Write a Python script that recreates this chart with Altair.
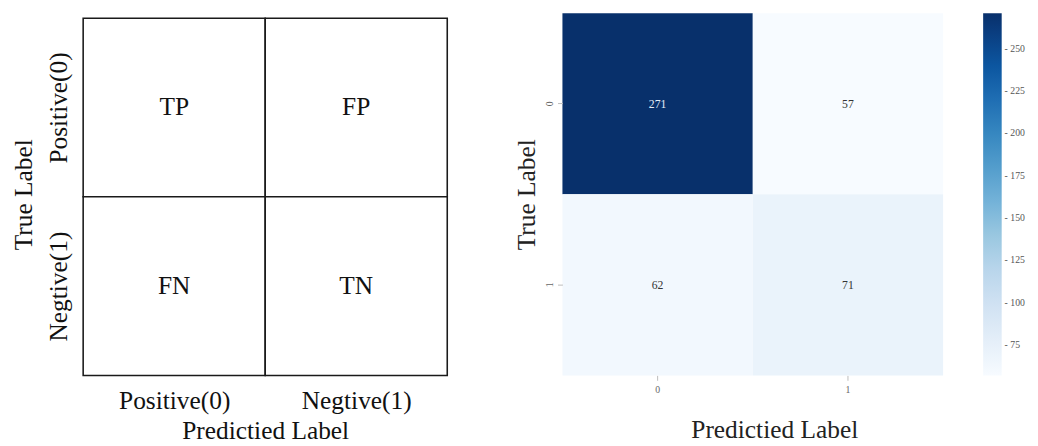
import altair as alt
import pandas as pd

# ---- data ----
axis_names = ["Positive(0)", "Negtive(1)"]
pred_idx = [0, 1, 0, 1]
true_idx = [0, 0, 1, 1]
cell_text = ["TP", "FP", "FN", "TN"]

cm_true = ["0", "0", "1", "1"]
cm_pred = ["0", "1", "0", "1"]
cm_count = [271, 57, 62, 71]
cbar_ticks = [75, 100, 125, 150, 175, 200, 225, 250]

blues = ["#f7fbff", "#deebf7", "#c6dbef", "#9ecae1", "#6baed6",
         "#4292c6", "#2171b5", "#08519c", "#08306b"]

FONT = "Liberation Serif"

left_df = pd.DataFrame({"p": pred_idx, "t": true_idx, "txt": cell_text})
right_df = pd.DataFrame({"true": cm_true, "pred": cm_pred, "count": cm_count})

lab_expr = "datum.value < 1 ? '%s' : '%s'" % (axis_names[0], axis_names[1])

xs = alt.Scale(domain=[0, 2], nice=False, zero=False)
ys = alt.Scale(domain=[-0.0274, 2], nice=False, zero=False, reverse=True)

x_axis = alt.Axis(values=[0.5, 1.5], labelExpr=lab_expr, ticks=False, domain=False,
                  grid=False, labelFont=FONT, labelFontSize=26, labelColor="#111",
                  labelPadding=13, title="Predictied Label", titleFont=FONT,
                  titleFontSize=26, titleFontWeight="normal", titleColor="#111",
                  titlePadding=5)
y_axis = alt.Axis(values=[0.5, 1.5], labelExpr=lab_expr, ticks=False, domain=False,
                  grid=False, labelFont=FONT, labelFontSize=26, labelColor="#111",
                  labelAngle=270, labelAlign="center", labelBaseline="bottom",
                  labelPadding=12, title="True Label", titleFont=FONT,
                  titleFontSize=26, titleFontWeight="normal", titleColor="#111",
                  titlePadding=10)

base_left = alt.Chart(left_df).transform_calculate(
    p2="datum.p + 1", t2="datum.t + 1", pc="datum.p + 0.5", tc="datum.t + 0.5"
)

cells = base_left.mark_rect(fill="white", stroke="#1a1a1a", strokeWidth=1.6).encode(
    x=alt.X("p:Q", scale=xs, axis=x_axis),
    x2="p2:Q",
    y=alt.Y("t:Q", scale=ys, axis=y_axis),
    y2="t2:Q",
)
labels = base_left.mark_text(font=FONT, fontSize=26, color="#111").encode(
    x=alt.X("pc:Q", scale=xs),
    y=alt.Y("tc:Q", scale=ys),
    text="txt:N",
)
left = alt.layer(cells, labels).properties(width=373, height=371)

n = len(blues)
lo, hi = min(cm_count), max(cm_count)
stops = [lo + (hi - lo) * i / (n - 1) for i in range(n)]

rx = alt.X("pred:O", scale=alt.Scale(paddingInner=0, paddingOuter=0),
           axis=alt.Axis(labelAngle=0, labelFont=FONT, labelFontSize=10,
                         labelColor="#666", tickColor="#bbb", tickSize=5,
                         domain=False, labelPadding=5, title="Predictied Label",
                         titleFont=FONT, titleFontSize=26, titleFontWeight="normal",
                         titleColor="#222", titlePadding=23, titleX=217))
ry = alt.Y("true:O", scale=alt.Scale(paddingInner=0, paddingOuter=0),
           axis=alt.Axis(labelAngle=270, labelAlign="center", labelBaseline="bottom",
                         labelFont=FONT, labelFontSize=10, labelColor="#666",
                         tickColor="#bbb", tickSize=5, domain=False, labelPadding=3,
                         title="True Label", titleFont=FONT, titleFontSize=26,
                         titleFontWeight="normal", titleColor="#222", titlePadding=6))

heat = alt.Chart(right_df).mark_rect().encode(
    x=rx, y=ry,
    color=alt.Color("count:Q",
                    scale=alt.Scale(type="linear", domain=stops, range=blues, clamp=True),
                    legend=alt.Legend(title=None, gradientLength=371, gradientThickness=19,
                                      offset=41, values=cbar_ticks,
                                      labelExpr="'- ' + datum.label",
                                      labelFont=FONT, labelFontSize=10,
                                      labelColor="#555", labelOffset=3,
                                      gradientStrokeWidth=0, direction="vertical")),
)
htext = alt.Chart(right_df).mark_text(font=FONT, fontSize=12).encode(
    x="pred:O", y="true:O", text="count:Q",
    color=alt.condition("datum.count > 200", alt.value("#e4ecf7"), alt.value("#333333")),
)
right = alt.layer(heat, htext).properties(width=390, height=371)

chart = alt.hconcat(left, right, spacing=118, bounds="flush").properties(
    padding={"left": 2, "top": 0, "right": 5, "bottom": 0}
).configure_view(stroke=None).resolve_scale(color="independent")

chart.save("out.html", embed_options={"renderer": "svg", "actions": False})
